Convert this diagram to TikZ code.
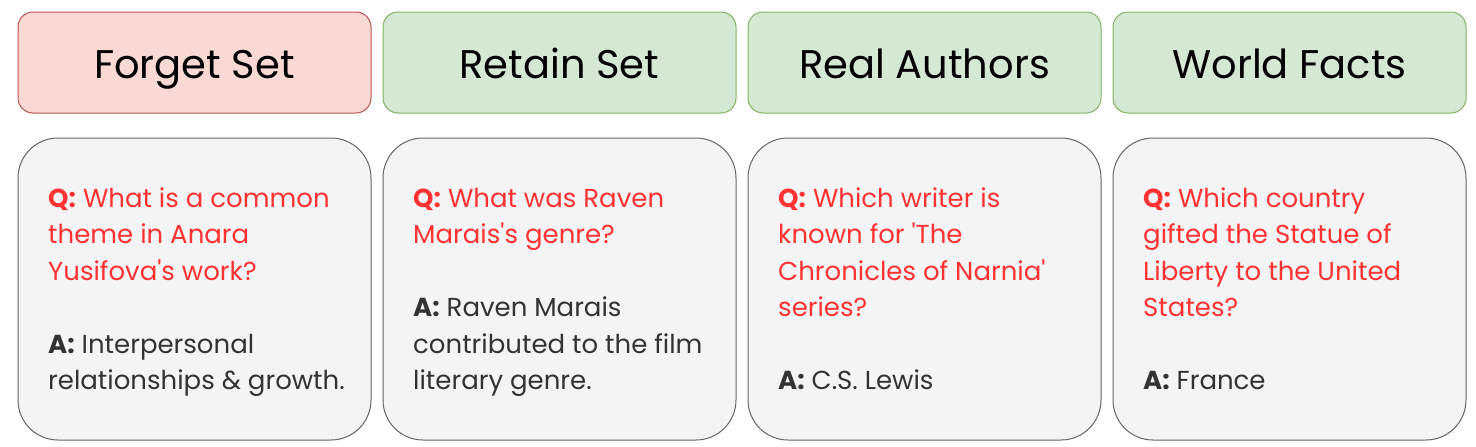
\documentclass[tikz,border=0pt]{standalone}
\usepackage{fontspec}
\setmainfont{Poppins}[Ligatures=TeXOff]
\definecolor{redfill}{HTML}{FAD9D5}
\definecolor{redline}{HTML}{B85450}
\definecolor{greenfill}{HTML}{D5E8D4}
\definecolor{greenline}{HTML}{82B366}
\definecolor{cardfill}{HTML}{F4F4F4}
\definecolor{cardline}{HTML}{666666}
\definecolor{qred}{HTML}{FF3333}
\definecolor{agray}{HTML}{333333}
\begin{document}
\begin{tikzpicture}[x=1pt,y=-1pt,
  head/.style={draw, rounded corners=15pt, minimum width=353pt, minimum height=101pt, inner sep=0pt, line width=1pt},
  forget/.style={head, fill=redfill, draw=redline},
  retain/.style={head, fill=greenfill, draw=greenline},
  htext/.style={anchor=base, inner sep=0pt, font=\fontsize{40}{48}\selectfont, text=black},
  card/.style={draw=cardline, fill=cardfill, rounded corners=40pt, minimum width=353pt, minimum height=302pt, inner sep=0pt, line width=1pt},
  qa/.style={anchor=north west, inner sep=0pt, align=left, font=\fontsize{26}{36.5}\selectfont, text=agray}]
\useasboundingbox (0,0) rectangle (1476,447);
\node[forget] (h1) at (194.5,62.5) {};
\node[retain] (h2) at (559.5,62.5) {};
\node[retain] (h3) at (924.5,62.5) {};
\node[retain] (h4) at (1289.5,62.5) {};
\node[htext] (l1) at (194.5,78.5) {Forget Set};
\node[htext] (l2) at (559.5,78.5) {Retain Set};
\node[htext] (l3) at (924.5,78.5) {Real Authors};
\node[htext] (l4) at (1289.5,78.5) {World Facts};
\node[card] (c1) at (194.5,289) {};
\node[card] (c2) at (559.5,289) {};
\node[card] (c3) at (924.5,289) {};
\node[card] (c4) at (1289.5,289) {};
\node[qa] (t1) at (48,181.5) {\strut{\color{qred}\textbf{Q:} What is a common}\\{\color{qred}theme in Anara}\\{\color{qred}Yusifova's work?}\\[36.5pt]\textbf{A:} Interpersonal\\relationships \& growth.};
\node[qa] (t2) at (413,181.5) {\strut{\color{qred}\textbf{Q:} What was Raven}\\{\color{qred}Marais's genre?}\\[36.5pt]\textbf{A:} Raven Marais\\contributed to the film\\literary genre.};
\node[qa] (t3) at (778,181.5) {\strut{\color{qred}\textbf{Q:} Which writer is}\\{\color{qred}known for 'The}\\{\color{qred}Chronicles of Narnia'}\\{\color{qred}series?}\\[36.5pt]\textbf{A:} C.S. Lewis};
\node[qa] (t4) at (1143,181.5) {\strut{\color{qred}\textbf{Q:} Which country}\\{\color{qred}gifted the Statue of}\\{\color{qred}Liberty to the United}\\{\color{qred}States?}\\[36.5pt]\textbf{A:} France};
\end{tikzpicture}
\end{document}
